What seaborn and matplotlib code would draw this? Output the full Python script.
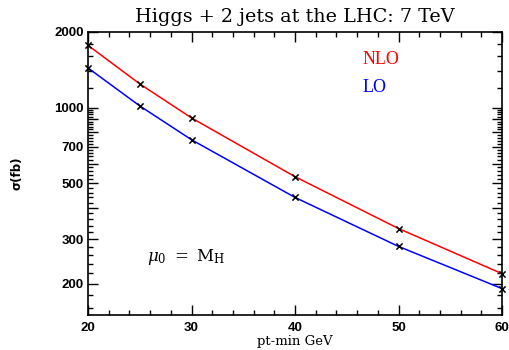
import matplotlib
matplotlib.use("Agg")
import matplotlib.pyplot as plt
import seaborn as sns
import pandas as pd
from matplotlib.ticker import FixedLocator, FuncFormatter

# ---- data ----
pt_min = [20, 25, 30, 40, 50, 60]
sigma_nlo = [1770, 1244, 911, 532, 331, 219]
sigma_lo = [1439, 1017, 746, 440, 281, 191]
series_names = ["NLO", "LO"]
series_colors = ["#ff0000", "#0000ff"]

y_major = [200, 300, 400, 500, 600, 700, 800, 900, 1000, 2000]
y_labeled = [200, 300, 500, 700, 1000, 2000]
y_minor = [160, 180] + list(range(220, 1000, 20)) + [1200, 1400, 1600, 1800]
x_major = [20, 30, 40, 50, 60]
x_minor = list(range(22, 60, 2))

title = "Higgs + 2 jets at the LHC: 7 TeV"
xlabel = "pt-min GeV"
ylabel = "σ(fb)"
scale_note = r"$\mu_0\ =\ \mathrm{M_H}$"

df = pd.DataFrame({
    "pt": pt_min * 2,
    "sigma": sigma_nlo + sigma_lo,
    "order": [series_names[0]] * len(pt_min) + [series_names[1]] * len(pt_min),
})

sns.set_style("ticks")
plt.rcParams["text.color"] = "black"
plt.rcParams["axes.labelcolor"] = "black"
plt.rcParams["xtick.color"] = "black"
plt.rcParams["ytick.color"] = "black"
plt.rcParams["mathtext.fontset"] = "dejavuserif"

fig = plt.figure(figsize=(5.09, 3.5), dpi=100)
ax = fig.add_axes([88 / 509, 1 - 315 / 350, (502 - 88) / 509, (315 - 32) / 350])

sns.lineplot(data=df, x="pt", y="sigma", hue="order",
             palette=dict(zip(series_names, series_colors)),
             legend=False, linewidth=1.1, ax=ax)
sns.scatterplot(data=df, x="pt", y="sigma", marker="x", color="black",
                s=20, linewidth=1.1, legend=False, ax=ax, zorder=5, clip_on=False)

ax.set_yscale("log")
ax.set_xlim(20, 60)
ax.set_ylim(150, 2000)

ax.yaxis.set_major_locator(FixedLocator(y_major))
ax.yaxis.set_minor_locator(FixedLocator(y_minor))
ax.yaxis.set_major_formatter(FuncFormatter(lambda v, p: f"{int(round(v))}" if int(round(v)) in y_labeled else ""))
ax.yaxis.set_minor_formatter(FuncFormatter(lambda v, p: ""))
ax.xaxis.set_major_locator(FixedLocator(x_major))
ax.xaxis.set_minor_locator(FixedLocator(x_minor))

for s in ax.spines.values():
    s.set_visible(True)
    s.set_linewidth(1.2)
    s.set_color("black")

ax.tick_params(which="both", direction="in", top=True, right=True, color="black", width=1.0)
ax.tick_params(which="major", length=7)
ax.tick_params(which="minor", length=3.5)
ax.tick_params(axis="x", which="major", pad=5)
ax.tick_params(axis="y", which="major", pad=3)
for lab in ax.get_xticklabels() + ax.get_yticklabels():
    lab.set_family("Liberation Sans")
    lab.set_fontweight("bold")
    lab.set_fontsize(9.5)

ax.set_xlabel(xlabel, family="DejaVu Serif", fontsize=9.5)
ax.xaxis.set_label_coords(0.5, -(342 - 315) / 283)
ax.xaxis.label.set_va("center")
ax.set_ylabel(ylabel, family="DejaVu Sans", fontweight="bold", fontsize=8.5)
ax.yaxis.set_label_coords(-(88 - 17) / 414, 0.5)
ax.yaxis.label.set_va("center")
ax.set_title(title, family="DejaVu Serif", fontsize=13.8, pad=7)

ax.text(363 / 509, 1 - 60 / 350, series_names[0], transform=fig.transFigure, color=series_colors[0],
        family="Liberation Serif", fontsize=13, va="center", ha="left")
ax.text(363 / 509, 1 - 87 / 350, series_names[1], transform=fig.transFigure, color=series_colors[1],
        family="Liberation Serif", fontsize=13, va="center", ha="left")
ax.text(147 / 509, 1 - 257 / 350, scale_note, transform=fig.transFigure,
        fontsize=12, va="center", ha="left")

fig.savefig("out.png", dpi=100)
